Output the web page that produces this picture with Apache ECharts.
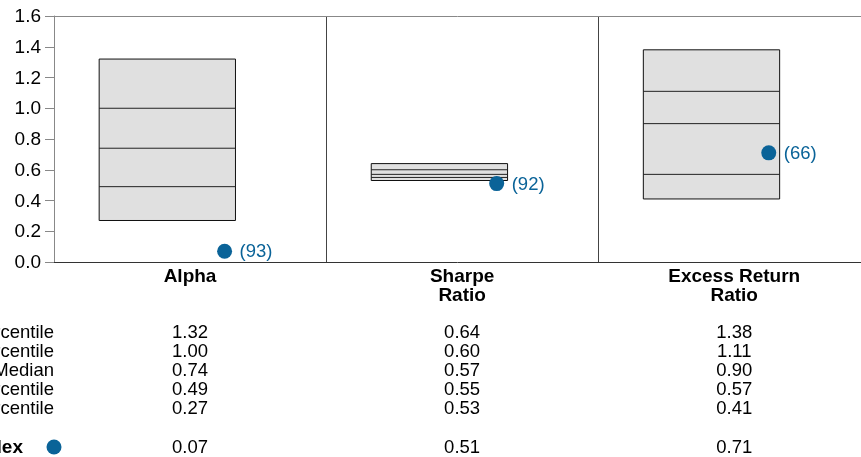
<!DOCTYPE html>
<html><head><meta charset="utf-8">
<script src="https://cdn.jsdelivr.net/npm/echarts@6/dist/echarts.min.js"></script>
<style>html,body{margin:0;padding:0;background:#fff;overflow:hidden}#c{width:861px;height:457px}</style>
</head><body><div id="c"></div>
<script>
const categories = ['Alpha', 'Sharpe\nRatio', 'Excess Return\nRatio'];
const p95 = [1.32, 0.64, 1.38];
const p75 = [1.00, 0.60, 1.11];
const median = [0.74, 0.57, 0.90];
const p25 = [0.49, 0.55, 0.57];
const p5 = [0.27, 0.53, 0.41];
const indexValues = [0.07, 0.51, 0.71];
const indexRanks = [93, 92, 66];
const rowLabels = ['5th Percentile', '25th Percentile', 'Median', '75th Percentile', '95th Percentile'];
const indexLabel = 'Index';
const yTicks = [0.0, 0.2, 0.4, 0.6, 0.8, 1.0, 1.2, 1.4, 1.6];

const BLUE = '#0a6398';
const FONT = '"Liberation Sans", Arial, sans-serif';
const rowY = [333, 352, 371, 390, 409];
const indexY = 448;

const chart = echarts.init(document.getElementById('c'), null, {renderer: 'canvas'});

function txt(x, y, text, opts) {
  return {type: 'text', x: x, y: y,
    style: {text: text, fill: opts.fill || '#000', font: (opts.bold ? 'bold 19px ' : (opts.size || 18.5) + 'px ') + FONT,
      lineHeight: opts.lineHeight || 19, textAlign: opts.align || 'center', textVerticalAlign: opts.va || 'middle'}};
}

function renderItem(params, api) {
  const i = api.value(0);
  const xl = api.coord([i + 0.166, 0])[0];
  const xr = api.coord([i + 0.667, 0])[0];
  const xc = api.coord([i + 0.5, 0])[0];
  const yt = api.coord([0, p95[i]])[1];
  const yb = api.coord([0, p5[i]])[1];
  const children = [];
  children.push({type: 'rect', shape: {x: xl, y: yt, width: xr - xl, height: yb - yt},
    style: {fill: '#e0e0e0', stroke: '#111', lineWidth: 1}});
  [p75[i], median[i], p25[i]].forEach(v => {
    const y = api.coord([0, v])[1];
    children.push({type: 'line', shape: {x1: xl, y1: y, x2: xr, y2: y}, style: {stroke: '#222', lineWidth: 1}});
  });
  const dp = api.coord([i + 0.627, indexValues[i]]);
  children.push({type: 'circle', shape: {cx: dp[0], cy: dp[1], r: 7.5}, style: {fill: BLUE}});
  children.push(txt(dp[0] + 15, dp[1] + 1, '(' + indexRanks[i] + ')', {fill: BLUE, align: 'left'}));
  children.push(txt(xc, 267, categories[i], {bold: true, va: 'top'}));
  const vals = [p95[i], p75[i], median[i], p25[i], p5[i]];
  vals.forEach((v, k) => children.push(txt(xc, rowY[k], v.toFixed(2), {})));
  children.push(txt(xc, indexY, indexValues[i].toFixed(2), {}));
  if (i === 0) {
    const xa = api.coord([0, 0])[0];
    yTicks.forEach(t => {
      const y = api.coord([0, t])[1];
      children.push(txt(xa - 13, y + 1, t.toFixed(1), {align: 'right', size: 19}));
    });
    rowLabels.forEach((t, k) => children.push(txt(54, rowY[k], t, {align: 'right'})));
    children.push(txt(23, indexY, indexLabel, {bold: true, align: 'right'}));
    children.push({type: 'circle', shape: {cx: 54, cy: indexY - 1, r: 7.5}, style: {fill: BLUE}});
  }
  return {type: 'group', children};
}

chart.setOption({
  animation: false,
  grid: {left: 54, right: 0, top: 16, bottom: 195, containLabel: false},
  xAxis: [{type: 'value', min: 0, max: 2.966, interval: 1, position: 'bottom',
    axisLine: {show: true, onZero: false, lineStyle: {color: '#333', width: 1}},
    axisTick: {show: false}, axisLabel: {show: false},
    splitLine: {show: true, lineStyle: {color: '#444', width: 1}}},
    {type: 'value', min: 0, max: 2.966, position: 'top',
    axisLine: {show: true, onZero: false, lineStyle: {color: '#888', width: 1}},
    axisTick: {show: false}, axisLabel: {show: false}, splitLine: {show: false}}],
  yAxis: {type: 'value', min: 0, max: 1.6, interval: 0.2,
    axisLine: {show: true, lineStyle: {color: '#888'}},
    axisTick: {show: true, length: 9, lineStyle: {color: '#888'}},
    axisLabel: {show: false},
    splitLine: {show: false}},
  series: [{type: 'custom', renderItem, clip: false, data: categories.map((c, i) => [i])}]
});
</script></body></html>
